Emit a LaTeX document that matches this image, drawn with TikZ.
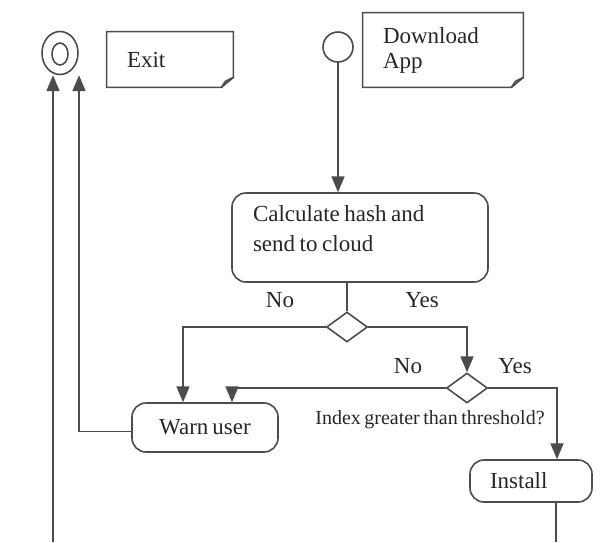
\documentclass[tikz,border=0pt]{standalone}
\usepackage{fontspec}
\setmainfont[WordSpace=0.7]{Liberation Serif}
\usepackage{tikz}
\usetikzlibrary{arrows}
\usetikzlibrary{calc}
\usetikzlibrary{shapes}
\tikzstyle{line} = [draw=black!70, line width=0.8pt]
\tikzstyle{arr} = [line, -triangle 45]
\tikzstyle{box} = [line, rounded corners=7pt, align=left, text=black!85, font=\fontsize{11.5}{15}\selectfont]
\tikzstyle{note} = [align=left, inner xsep=10pt, text=black!85, font=\fontsize{11.5}{12.5}\selectfont]
\tikzstyle{choice} = [line, diamond, inner sep=0pt, minimum width=20.5pt, minimum height=15pt]
\tikzstyle{lbl} = [text=black!85, font=\fontsize{11.5}{14}\selectfont]
\newcommand{\notefold}[1]{%
	\draw[line] (#1.north west) -- (#1.north east) -- ([yshift=5pt]#1.south east)
		-- ([xshift=-6pt]#1.south east) -- (#1.south west) -- cycle ;
	\draw[line] ([xshift=-6pt]#1.south east) -- ([xshift=-4pt, yshift=3pt]#1.south east)
		-- ([yshift=5pt]#1.south east) ;}

\begin{document}
\begin{tikzpicture}[x=0.5pt, y=-0.5pt]
	\useasboundingbox (0,0) rectangle (600,542) ;

	\node[line, ellipse, minimum width=18pt, minimum height=21.5pt, inner sep=0pt] (final) at (60,53) {} ;
	\node[line, ellipse, minimum width=8pt, minimum height=11pt, inner sep=0pt] (finalin) at (60,54) {} ;
	\node[line, circle, minimum size=15pt, inner sep=0pt] (start) at (338,47) {} ;

	\node[note, text width=43pt, minimum height=27.5pt] (exitnote) at (170,59.5) {Exit} ;
	\node[note, text width=60pt, minimum height=37pt] (appnote) at (443,50) {Download\\App} ;
	\notefold{exitnote}
	\notefold{appnote}

	\node[box, text width=107pt, inner xsep=10.5pt, minimum height=44.5pt,
		execute at end node={\par\vspace*{9pt}}] (calc) at (360,237.5)
		{\spaceskip=0.2em\relax Calculate hash and\\send to cloud} ;
	\node[choice] (dia1) at (347,327) {} ;
	\node[choice] (dia2) at (467,388) {} ;
	\node[box, minimum width=73pt, minimum height=24.5pt] (warn) at (205,427.5) {Warn user} ;
	\node[box, text width=41pt, inner xsep=10pt, minimum height=21pt] (install) at (531,481) {Install} ;

	\node[lbl] (no1) at (280,300) {No} ;
	\node[lbl] (yes1) at (422,300) {Yes} ;
	\node[lbl] (no2) at (408,366) {No} ;
	\node[lbl] (yes2) at (515,366) {Yes} ;
	\node[text=black!85, font=\fontsize{10}{12}\selectfont] (ask) at (430,420) {Index greater than threshold?} ;

	\coordinate (down) at (556,542) ;
	\coordinate (back) at (53,542) ;

	\draw[arr] (start) -- (calc.north -| start) ;
	\draw[line] (calc.south -| dia1) -- (dia1) ;
	\draw[arr] (dia1.west) -| ([xshift=-11pt]warn.north) ;
	\draw[arr] (dia1.east) -| (dia2.north) ;
	\draw[arr] (dia2.west) -| ([xshift=13.5pt]warn.north) ;
	\draw[arr] (dia2.east) -| ([xshift=13pt]install.north) ;
	\draw[line] (down |- install.south) -- (down) ;
	\draw[arr] ([yshift=-2pt]warn.west) -| ([xshift=9.5pt]final.south) ;
	\draw[arr] (back) -- ([xshift=-3.5pt]final.south) ;
\end{tikzpicture}
\end{document}
